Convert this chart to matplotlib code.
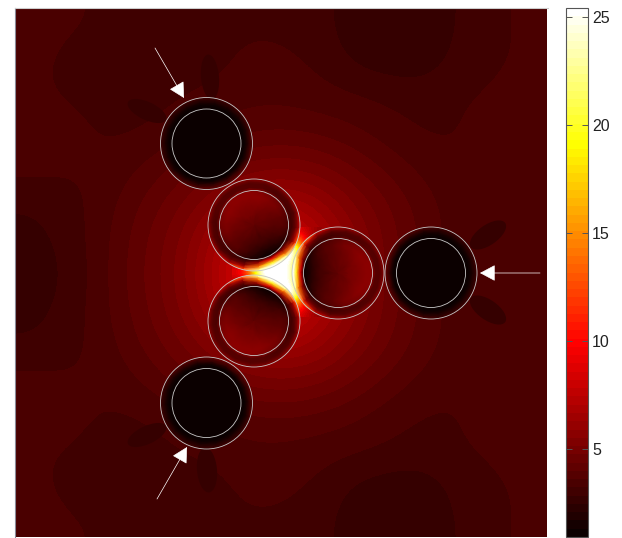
import numpy as np
import matplotlib
matplotlib.use('Agg')
import matplotlib.pyplot as plt
from matplotlib.patches import Circle, Ellipse

plt.rcParams['font.family'] = ['Liberation Sans', 'DejaVu Sans']

# all positions are read in picture pixels
bg_extent = [15, 547, 540, 8]
bg_field = [
	[3.3, 3.3, 3.2, 3.1, 3.1, 3.2, 3.2, 3.2, 3.1, 2.6, 2.5, 2.5, 2.9, 3.2, 3.3],
	[3.3, 3.2, 3.0, 3.0, 3.1, 3.1, 3.3, 3.3, 3.2, 2.8, 2.6, 2.6, 3.0, 3.2, 3.3],
	[3.3, 3.2, 3.1, 3.1, 3.2, 3.3, 3.5, 3.5, 3.4, 3.3, 3.2, 3.1, 3.2, 3.3, 3.4],
	[3.5, 3.4, 3.2, 3.2, 3.4, 3.7, 3.9, 4.0, 3.9, 3.7, 3.4, 3.2, 3.2, 3.5, 3.6],
	[3.4, 3.3, 3.3, 3.6, 4.1, 4.5, 4.9, 5.1, 4.9, 4.4, 3.9, 3.5, 3.3, 3.4, 3.5],
	[2.9, 3.1, 3.4, 4.0, 4.6, 5.4, 6.2, 6.6, 6.2, 5.2, 4.4, 3.8, 3.4, 3.2, 3.3],
	[2.7, 3.0, 3.5, 4.2, 5.0, 6.2, 8.0, 9.0, 7.0, 5.8, 4.6, 3.9, 3.4, 3.2, 3.3],
	[2.6, 2.9, 3.5, 4.3, 5.1, 6.6, 9.0, 9.0, 8.0, 5.9, 4.6, 3.9, 3.4, 3.2, 3.3],
	[2.7, 3.0, 3.5, 4.2, 5.0, 6.2, 8.0, 9.0, 7.0, 5.8, 4.6, 3.9, 3.4, 3.2, 3.3],
	[2.9, 3.1, 3.4, 4.0, 4.6, 5.4, 6.2, 6.6, 6.2, 5.2, 4.4, 3.8, 3.4, 3.2, 3.3],
	[3.4, 3.3, 3.3, 3.6, 4.1, 4.5, 4.9, 5.1, 4.9, 4.4, 3.9, 3.5, 3.3, 3.4, 3.5],
	[3.5, 3.4, 3.2, 3.2, 3.4, 3.7, 3.9, 4.0, 3.9, 3.7, 3.4, 3.2, 3.2, 3.5, 3.6],
	[3.3, 3.2, 3.1, 3.1, 3.2, 3.3, 3.5, 3.5, 3.4, 3.3, 3.2, 3.1, 3.2, 3.3, 3.4],
	[3.3, 3.2, 3.0, 3.0, 3.1, 3.1, 3.3, 3.3, 3.2, 2.8, 2.6, 2.6, 3.0, 3.2, 3.3],
	[3.3, 3.3, 3.2, 3.1, 3.1, 3.2, 3.2, 3.2, 3.1, 2.6, 2.5, 2.5, 2.9, 3.2, 3.3],
]

hot_extent = [232, 322, 317, 227]
hot_field = [
	[6, 6, 6, 6, 6, 7, 7, 8, 9, 9, 8, 7, 6],
	[6, 6, 6, 6, 7, 8, 9, 10, 12, 13, 10, 7, 6],
	[6, 6, 6, 7, 8, 10, 13, 18, 22, 17, 11, 7, 6],
	[6, 6, 7, 8, 10, 14, 20, 26, 26, 22, 11, 7, 6],
	[6, 7, 8, 10, 15, 22, 26, 26, 26, 18, 9, 7, 6],
	[8, 9, 11, 16, 24, 26, 26, 26, 24, 17, 9, 7, 6],
	[9, 11, 15, 22, 26, 26, 26, 26, 24, 18, 10, 7, 6],
	[8, 9, 11, 16, 24, 26, 26, 26, 24, 17, 9, 7, 6],
	[6, 7, 8, 10, 15, 22, 26, 26, 26, 18, 9, 7, 6],
	[6, 6, 7, 8, 10, 14, 20, 26, 26, 22, 11, 7, 6],
	[6, 6, 6, 7, 8, 10, 13, 18, 22, 17, 11, 7, 6],
	[6, 6, 6, 6, 7, 8, 9, 10, 12, 13, 10, 7, 6],
	[6, 6, 6, 6, 6, 7, 7, 8, 9, 9, 8, 7, 6],
]

hot_center = (277, 272)
outer_radius = 46
inner_radius = 34.5
inner_centers = [(254, 225), (338, 273), (254, 321)]
far_centers = [(206.5, 143.5), (431, 273), (206.5, 403)]

# disc fields, angle measured from the direction towards the hot spot
disc_radii = [0, 10, 20, 28, 34, 38, 42, 45, 49]
disc_angles = [0, 20, 40, 60, 80, 100, 120, 140, 160, 180]
inner_disc = [
	[4.3, 3.6, 2.9, 2.0, 1.2, 9.0, 20.0, 26.0, 26.0],
	[4.3, 3.7, 3.0, 2.2, 1.4, 6.0, 14.0, 22.0, 26.0],
	[4.3, 3.8, 3.4, 3.0, 2.4, 3.5, 6.0, 12.0, 20.0],
	[4.3, 4.1, 3.9, 3.7, 3.4, 3.0, 4.6, 7.0, 11.0],
	[4.3, 4.3, 4.3, 4.3, 4.0, 3.2, 4.0, 5.6, 7.5],
	[4.3, 4.5, 4.7, 4.8, 4.6, 3.4, 3.9, 5.2, 6.5],
	[4.3, 4.6, 5.0, 5.2, 5.1, 3.6, 3.9, 5.0, 6.0],
	[4.3, 4.7, 5.2, 5.6, 5.5, 3.7, 3.9, 4.9, 5.8],
	[4.3, 4.8, 5.4, 5.8, 5.7, 3.8, 3.9, 4.9, 5.6],
	[4.3, 4.8, 5.4, 5.9, 5.8, 3.8, 3.9, 4.9, 5.6],
]
far_disc = [
	[0.9, 0.9, 0.9, 0.9, 1.0, 1.3, 2.6, 3.9, 4.5],
	[0.9, 0.9, 0.9, 0.9, 1.0, 1.3, 2.6, 3.8, 4.4],
	[0.9, 0.9, 0.9, 0.9, 1.0, 1.2, 2.4, 3.6, 4.1],
	[0.9, 0.9, 0.9, 0.9, 1.0, 1.2, 2.2, 3.3, 3.8],
	[0.9, 0.9, 0.9, 0.9, 1.0, 1.2, 2.0, 3.0, 3.5],
	[0.9, 0.9, 0.9, 0.9, 1.0, 1.1, 1.9, 2.8, 3.2],
	[0.9, 0.9, 0.9, 0.9, 1.0, 1.1, 1.8, 2.7, 3.1],
	[0.9, 0.9, 0.9, 0.9, 1.0, 1.1, 1.8, 2.6, 3.0],
	[0.9, 0.9, 0.9, 0.9, 1.0, 1.1, 1.8, 2.6, 3.0],
	[0.9, 0.9, 0.9, 0.9, 1.0, 1.1, 1.8, 2.6, 3.0],
]

# dark lobes beside the outer discs: centre, length, thickness, angle
lobe_value = 2.75
lobe_centers = [(210, 77), (147, 111), (488, 235), (488, 310), (147, 435), (207, 470)]
lobe_lengths = [45, 42, 42, 42, 42, 45]
lobe_widths = [18, 18, 20, 20, 18, 20]
lobe_angles = [85, 25, -35, 35, -25, 85]

arrow_tails = [(155, 48), (540, 273), (157, 499)]
arrow_tips = [(184, 98), (480, 273), (187, 447)]

vmin = 0.95
vmax = 25.42
cbar_ticks = [5, 10, 15, 20, 25]

W, H = 622, 538
line_color = '#c8c8c8'
cmap = plt.get_cmap('hot', 64)
norm = plt.Normalize(vmin, vmax)


def draw_disc(ax, center, field):
	"""Draw one disc from its field, turned so angle 0 faces the hot spot"""
	base = np.arctan2(hot_center[1] - center[1], hot_center[0] - center[0])
	angles = np.deg2rad(disc_angles)
	# the field is mirror symmetric about the hot spot direction
	angles = np.concatenate((-angles[:0:-1], angles))
	values = np.array(field)
	values = np.vstack((values[:0:-1], values))
	r, t = np.meshgrid(disc_radii, angles + base)
	mesh = ax.pcolormesh(center[0] + r * np.cos(t), center[1] + r * np.sin(t), values, shading='gouraud', cmap=cmap, norm=norm, zorder=3)
	mesh.set_clip_path(Circle(center, outer_radius, transform=ax.transData))


fig = plt.figure(figsize=(W / 100, H / 100), dpi=100, facecolor='white')
ax = fig.add_axes([15 / W, 1 - 537 / H, 533 / W, 529 / H])

ax.imshow(bg_field, extent=bg_extent, cmap=cmap, norm=norm, interpolation='bicubic', aspect='auto', zorder=1)
ax.imshow(hot_field, extent=hot_extent, cmap=cmap, norm=norm, interpolation='bicubic', aspect='auto', zorder=2)

for center, length, width, angle in zip(lobe_centers, lobe_lengths, lobe_widths, lobe_angles):
	ax.add_patch(Ellipse(center, length, width, angle=angle, facecolor=cmap(norm(lobe_value)), edgecolor='none', zorder=1.5))

for center in inner_centers:
	draw_disc(ax, center, inner_disc)
for center in far_centers:
	draw_disc(ax, center, far_disc)

for center in inner_centers + far_centers:
	for radius in (outer_radius, inner_radius):
		ax.add_patch(Circle(center, radius, fill=False, edgecolor=line_color, linewidth=0.6, zorder=4))

for tail, tip in zip(arrow_tails, arrow_tips):
	ax.annotate('', xy=tip, xytext=tail, arrowprops=dict(arrowstyle='-|>,head_length=0.75,head_width=0.4', mutation_scale=13, color='white', linewidth=0.5, shrinkA=0, shrinkB=0), zorder=5)

ax.set_xlim(15, 548)
ax.set_ylim(537, 8)
ax.set_xticks([])
ax.set_yticks([])
ax.spines['left'].set_color('#8a8a98')
ax.spines['top'].set_color('#cccccc')
ax.spines['right'].set_visible(False)
ax.spines['bottom'].set_visible(False)

cax = fig.add_axes([566 / W, 1 - 537 / H, 22 / W, 529 / H])
sm = plt.cm.ScalarMappable(norm=norm, cmap=cmap)
cbar = fig.colorbar(sm, cax=cax)
cbar.set_ticks(cbar_ticks)
cbar.outline.set_edgecolor('#555555')
cbar.outline.set_linewidth(0.8)
cax.tick_params(axis='y', direction='in', length=4, width=0.7, color='#555555', left=True, right=True, labelsize=11.5, labelcolor='#222222', pad=3)

plt.savefig('out.png', dpi=100)
